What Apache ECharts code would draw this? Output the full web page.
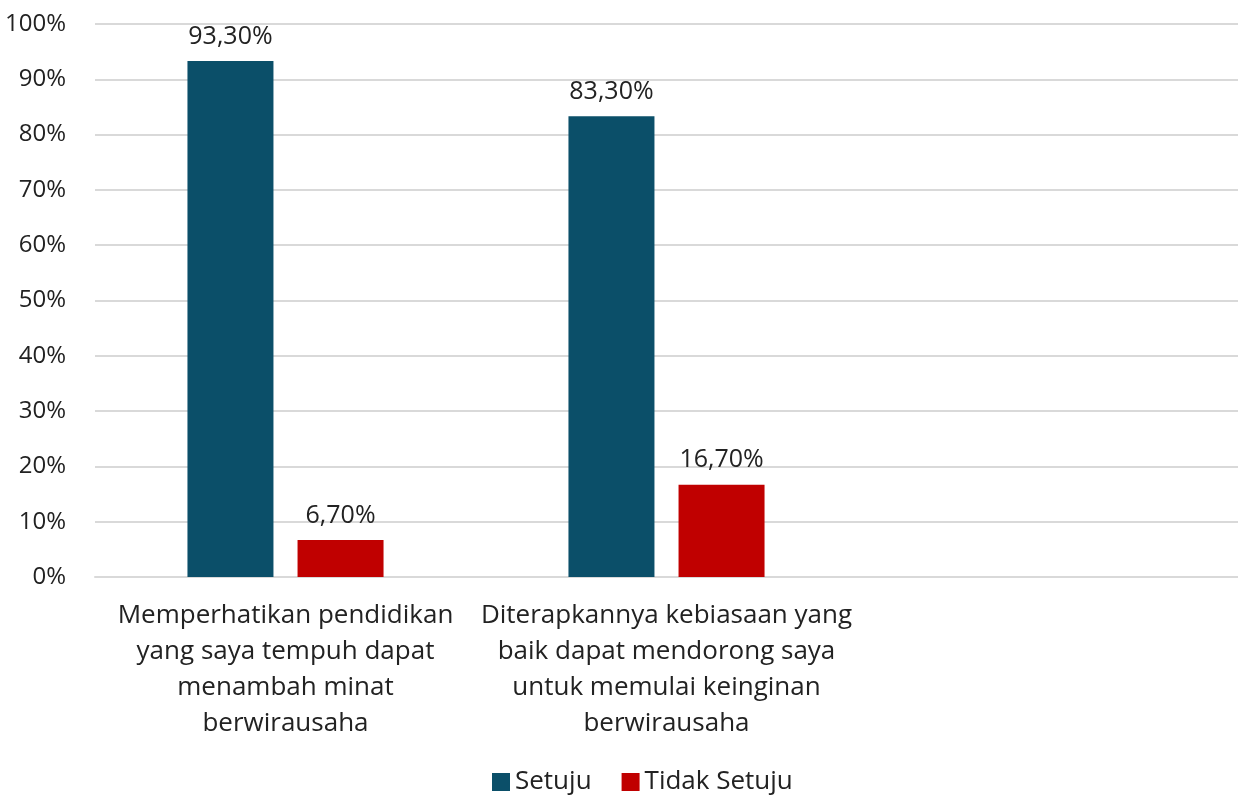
<!DOCTYPE html>
<html>
<head>
<meta charset="utf-8">
<script src="https://cdn.jsdelivr.net/npm/echarts@6/dist/echarts.min.js"></script>
<style>
  html, body { margin: 0; padding: 0; background: #fff; }
  #chart { width: 1238px; height: 796px; }
</style>
</head>
<body>
<div id="chart"></div>
<script>
const categories = [
  "Memperhatikan pendidikan\nyang saya tempuh dapat\nmenambah minat\nberwirausaha",
  "Diterapkannya kebiasaan yang\nbaik dapat mendorong saya\nuntuk memulai keinginan\nberwirausaha",
  ""
];
const setuju = [93.3, 83.3, null];
const tidakSetuju = [6.7, 16.7, null];

const font = "'Open Sans', Lato, sans-serif";
const pctLabel = p => p.value.toFixed(2).replace(".", ",") + "%";

const chart = echarts.init(document.getElementById("chart"));
chart.setOption({
  animation: false,
  textStyle: { fontFamily: font },
  legend: {
    bottom: -4,
    left: 487,
    itemWidth: 18,
    itemHeight: 18,
    itemGap: 30,
    icon: "rect",
    textStyle: { fontSize: 26, color: "#222", fontFamily: font }
  },
  grid: { left: 95, right: 0, top: 24, bottom: 219, containLabel: false },
  xAxis: {
    type: "category",
    data: categories,
    axisTick: { show: false },
    axisLine: { lineStyle: { color: "#d9d9d9", width: 2 } },
    axisLabel: {
      interval: 0,
      fontSize: 26,
      lineHeight: 36,
      color: "#222",
      margin: 21,
      fontFamily: font
    }
  },
  yAxis: {
    type: "value",
    min: 0,
    max: 100,
    interval: 10,
    axisLine: { show: false },
    axisTick: { show: false },
    splitLine: { lineStyle: { color: "#d9d9d9", width: 2 } },
    axisLabel: {
      formatter: "{value}%",
      fontSize: 24,
      color: "#222",
      margin: 29,
      fontFamily: font
    }
  },
  series: [
    {
      name: "Setuju",
      type: "bar",
      data: setuju,
      barWidth: 86,
      barGap: "28%",
      itemStyle: { color: "#0b4f69" },
      label: { show: true, position: "top", distance: 12, formatter: pctLabel, fontSize: 25, color: "#222", fontFamily: font }
    },
    {
      name: "Tidak Setuju",
      type: "bar",
      data: tidakSetuju,
      barWidth: 86,
      itemStyle: { color: "#c00000" },
      label: { show: true, position: "top", distance: 12, formatter: pctLabel, fontSize: 25, color: "#222", fontFamily: font }
    }
  ]
});
</script>
</body>
</html>
